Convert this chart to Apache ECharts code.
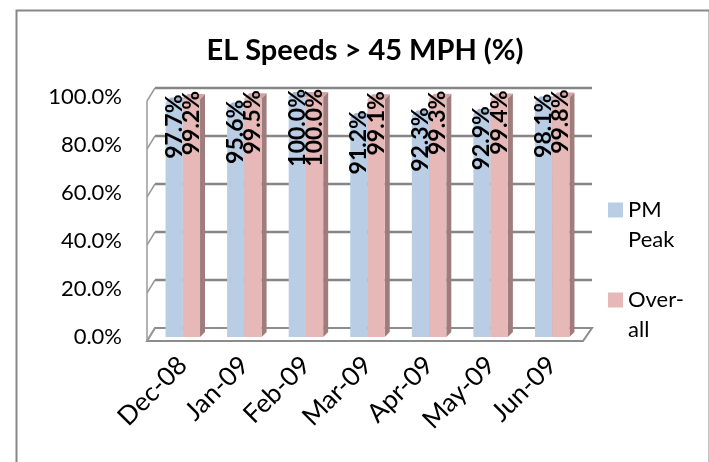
<!DOCTYPE html>
<html>
<head>
<meta charset="utf-8">
<script src="https://cdn.jsdelivr.net/npm/echarts@6/dist/echarts.min.js"></script>
<style>
  html, body { margin: 0; padding: 0; background: #fff; }
  #chart { width: 709px; height: 462px; }
</style>
</head>
<body>
<div id="chart"></div>
<script>
// data
var months = ['Dec-08', 'Jan-09', 'Feb-09', 'Mar-09', 'Apr-09', 'May-09', 'Jun-09'];
var pmPeak = [97.7, 95.6, 100.0, 91.2, 92.3, 92.9, 98.1];
var overall = [99.2, 99.5, 100.0, 99.1, 99.3, 99.4, 99.8];
var yTicks = [0, 20, 40, 60, 80, 100];
var seriesNames = ['PM Peak', 'Over-all'];
// leading blank line keeps the icon level with the first text line
var legendText = { 'PM Peak': '\nPM\nPeak', 'Over-all': '\nOver-\nall' };

var FONT = 'Lato, "Open Sans", sans-serif';
var faces = [
  { front: '#B9CDE5', top: '#9FB4CE', side: '#8D9DB1' },
  { front: '#E6B9B8', top: '#D4A3A2', side: '#9E7D7C' }
];

var chart = echarts.init(document.getElementById('chart'));

// 3d-ish bar: front face, top face, side face + rotated label
function barItem(idx) {
  return function (params, api) {
    var cat = api.value(0), val = api.value(1);
    var base = api.coord([cat, 0]);
    var top = api.coord([cat, val]);
    var band = api.size([1, 0])[0];
    var w = band * 0.28;
    var x0 = base[0] - w + idx * w;
    var dx = 5, dy = -5;
    var f = faces[idx];
    return {
      type: 'group',
      children: [
        { type: 'polygon', shape: { points: [[x0 + w, top[1]], [x0 + w + dx, top[1] + dy], [x0 + w + dx, base[1] + dy], [x0 + w, base[1]]] }, style: { fill: f.side } },
        { type: 'polygon', shape: { points: [[x0, top[1]], [x0 + dx, top[1] + dy], [x0 + w + dx, top[1] + dy], [x0 + w, top[1]]] }, style: { fill: f.top } },
        { type: 'rect', shape: { x: x0, y: top[1], width: w, height: base[1] - top[1] }, style: { fill: f.front } },
        {
          type: 'text', x: x0 + w / 2, y: top[1] - 8, rotation: Math.PI / 2, z2: 10,
          style: {
            text: val.toFixed(1) + '%', fill: '#000', font: 'bold 23px ' + FONT,
            align: 'right', verticalAlign: 'middle', textAlign: 'right', textVerticalAlign: 'middle'
          }
        }
      ]
    };
  };
}

// walls + floor
function frameItem(params, api) {
  var band = api.size([1, 0])[0];
  var xl = api.coord([0, 0])[0] - band / 2;
  var xr = api.coord([months.length - 1, 0])[0] + band / 2;
  var y0 = api.coord([0, 0])[1];
  var yTop = api.coord([0, yTicks[yTicks.length - 1]])[1];
  var kids = [];
  kids.push({ type: 'polygon', shape: { points: [[xl - 5, y0 + 4], [xr, y0 + 4], [xr + 9, y0 - 9], [xl + 3, y0 - 9]] }, style: { fill: '#fff', stroke: '#8c8c8c', lineWidth: 2 } });
  yTicks.forEach(function (v) {
    var y = api.coord([0, v])[1];
    kids.push({ type: 'line', shape: { x1: xl - 5, y1: y + 4, x2: xl + 3, y2: y - 9 }, style: { stroke: '#9a9a9a', lineWidth: 1.5 } });
    if (v > 0) {
      kids.push({ type: 'line', shape: { x1: xl + 3, y1: y - 9, x2: xr + 9, y2: y - 9 }, style: { stroke: '#868686', lineWidth: 2.5 } });
    }
  });
  kids.push({ type: 'line', shape: { x1: xl - 5, y1: yTop + 4, x2: xl - 5, y2: y0 + 4 }, style: { stroke: '#9a9a9a', lineWidth: 1.5 } });
  return { type: 'group', children: kids };
}

var option = {
  backgroundColor: '#fff',
  animation: false,
  graphic: [{
    type: 'rect', left: 14, top: 8,
    shape: { width: 693, height: 470 },
    style: { fill: 'none', stroke: '#878787', lineWidth: 2 }
  }],
  title: {
    text: 'EL Speeds > 45 MPH (%)',
    left: 360, top: 31, textAlign: 'center',
    textStyle: { fontFamily: FONT, fontWeight: 'bold', fontSize: 29, color: '#000' }
  },
  legend: {
    data: seriesNames,
    orient: 'vertical',
    left: 608, top: 165,
    padding: 0,
    itemGap: 0,
    itemWidth: 15, itemHeight: 15,
    icon: 'rect',
    formatter: function (n) { return legendText[n]; },
    textStyle: { fontFamily: FONT, fontSize: 22, color: '#000', lineHeight: 30 }
  },
  grid: { left: 152, right: 126, top: 97, bottom: 125 },
  xAxis: {
    type: 'category',
    data: months,
    axisLine: { show: false },
    axisTick: { show: false },
    axisLabel: { rotate: 45, margin: 24, fontFamily: FONT, fontSize: 26, color: '#000', interval: 0 }
  },
  yAxis: {
    type: 'value',
    min: 0, max: 100, interval: 20,
    axisLine: { show: false },
    axisTick: { show: false },
    splitLine: { show: false },
    axisLabel: {
      margin: 30, fontFamily: FONT, fontSize: 22, color: '#000', padding: [8, 0, 0, 0],
      formatter: function (v) { return v.toFixed(1) + '%'; }
    }
  },
  series: [
    {
      name: 'frame', type: 'custom', silent: true, clip: false,
      data: [[0, 0]], renderItem: frameItem
    },
    {
      name: seriesNames[0], type: 'custom', clip: false,
      itemStyle: { color: faces[0].front },
      data: months.map(function (m, i) { return [i, pmPeak[i]]; }),
      renderItem: barItem(0)
    },
    {
      name: seriesNames[1], type: 'custom', clip: false,
      itemStyle: { color: faces[1].front },
      data: months.map(function (m, i) { return [i, overall[i]]; }),
      renderItem: barItem(1)
    }
  ]
};
chart.setOption(option);
</script>
</body>
</html>
